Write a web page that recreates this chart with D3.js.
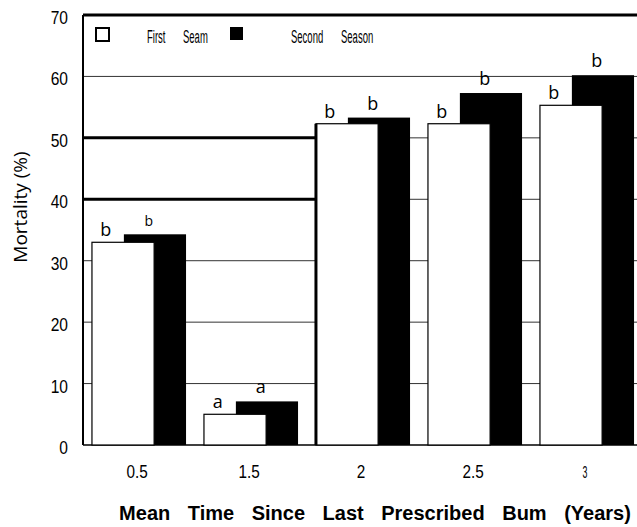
<!DOCTYPE html>
<html>
<head>
<meta charset="utf-8">
<script src="https://cdn.jsdelivr.net/npm/d3@7"></script>
<style>
	body { margin: 0; background: #fff; }
	.narrow { font-family: 'Liberation Sans', Arial, sans-serif; }
</style>
</head>
<body>
<script>
const years = ['0.5', '1.5', '2', '2.5', '3'];
const firstSeason = [33, 5, 52.3, 52.3, 55.3];
const secondSeason = [34.3, 7.1, 53.3, 57.3, 60.2];
const firstLetters = ['b', 'a', 'b', 'b', 'b'];
const secondLetters = ['b', 'a', 'b', 'b', 'b'];
const yTicks = [0, 10, 20, 30, 40, 50, 60, 70];
const legendWords = [['First', 'Seam'], ['Second', 'Season']];

const margin = {top: 15, right: -6, bottom: 82, left: 83};
const svgSize = {'width': 637, 'height': 527};
const chartSize = {'width': svgSize.width - margin.left - margin.right, 'height': svgSize.height - margin.top - margin.bottom};

const svg = d3.select('body').append('svg')
	.attr('width', svgSize.width)
	.attr('height', svgSize.height);

const xAxis = d3.scaleBand().range([0, chartSize.width]).domain(years);
const yAxis = d3.scaleLinear().range([chartSize.height, 0]).domain([0, 70]);

const step = xAxis.step();
const barW = step * 0.555;
const whiteX = (d) => xAxis(d) + step * 0.08;
const blackX = (d) => xAxis(d) + step * 0.365;

const chart = svg.append('g')
	.attr('transform', `translate(${margin.left}, ${margin.top})`);

// gridlines
chart.selectAll('line.grid')
	.data(yTicks.filter((t) => t > 0 && t < 70))
	.enter()
	.append('line')
	.attr('class', 'grid')
	.attr('x1', 0)
	.attr('x2', chartSize.width)
	.attr('y1', (d) => yAxis(d))
	.attr('y2', (d) => yAxis(d))
	.attr('stroke', '#333')
	.attr('stroke-width', 1);

// heavier lines from the scan on the left part
chart.selectAll('line.heavy')
	.data([40, 50])
	.enter()
	.append('line')
	.attr('x1', 0)
	.attr('x2', whiteX('2'))
	.attr('y1', (d) => yAxis(d))
	.attr('y2', (d) => yAxis(d))
	.attr('stroke', '#000')
	.attr('stroke-width', 3);

// frame
chart.append('line')
	.attr('x1', 0).attr('x2', chartSize.width)
	.attr('y1', yAxis(70)).attr('y2', yAxis(70))
	.attr('stroke', '#000').attr('stroke-width', 3);
chart.append('line')
	.attr('x1', 0).attr('x2', 0)
	.attr('y1', yAxis(70)).attr('y2', yAxis(0))
	.attr('stroke', '#000').attr('stroke-width', 2);
chart.append('line')
	.attr('x1', 0).attr('x2', chartSize.width)
	.attr('y1', yAxis(0)).attr('y2', yAxis(0))
	.attr('stroke', '#000').attr('stroke-width', 1.5);

// black bars (behind)
chart.selectAll('rect.second')
	.data(years)
	.enter()
	.append('rect')
	.attr('class', 'second')
	.attr('x', (d) => blackX(d))
	.attr('y', (d, i) => yAxis(secondSeason[i]))
	.attr('width', barW)
	.attr('height', (d, i) => yAxis(0) - yAxis(secondSeason[i]))
	.attr('fill', '#000');

// white bars (front)
chart.selectAll('rect.first')
	.data(years)
	.enter()
	.append('rect')
	.attr('class', 'first')
	.attr('x', (d) => whiteX(d))
	.attr('y', (d, i) => yAxis(firstSeason[i]))
	.attr('width', barW)
	.attr('height', (d, i) => yAxis(0) - yAxis(firstSeason[i]))
	.attr('fill', '#fff')
	.attr('stroke', '#000')
	.attr('stroke-width', 1.2);

chart.append('line')
	.attr('x1', whiteX('2')).attr('x2', whiteX('2'))
	.attr('y1', yAxis(firstSeason[2])).attr('y2', yAxis(0))
	.attr('stroke', '#000').attr('stroke-width', 3);

// letters
chart.selectAll('text.l1')
	.data(years)
	.enter()
	.append('text')
	.attr('x', (d) => whiteX(d) + barW * 0.22)
	.attr('y', (d, i) => yAxis(firstSeason[i]) - 6)
	.attr('text-anchor', 'middle')
	.attr('font-family', 'Open Sans, sans-serif')
	.attr('font-size', 18)
	.text((d, i) => firstLetters[i]);

chart.selectAll('text.l2')
	.data(years)
	.enter()
	.append('text')
	.attr('x', (d) => blackX(d) + barW * 0.4)
	.attr('y', (d, i) => yAxis(secondSeason[i]) - 8)
	.attr('text-anchor', 'middle')
	.attr('font-family', 'Open Sans, sans-serif')
	.attr('font-size', (d, i) => i === 0 ? 14 : 18)
	.text((d, i) => secondLetters[i]);

// y ticks (condensed look)
chart.selectAll('text.tick-y')
	.data(yTicks)
	.enter()
	.append('text')
	.attr('class', 'narrow')
	.attr('transform', (d) => `translate(-15, ${yAxis(d) + 9}) scale(0.82, 1)`)
	.attr('text-anchor', 'end')
	.attr('font-size', 19)
	.text((d) => d);

// x ticks
chart.selectAll('text.tick-x')
	.data(years)
	.enter()
	.append('text')
	.attr('class', 'narrow')
	.attr('transform', (d) => `translate(${xAxis(d) + step / 2 - 2}, ${yAxis(0) + 33}) scale(${d === '3' ? 0.55 : 0.85}, 1)`)
	.attr('text-anchor', 'middle')
	.attr('font-size', (d) => d === '3' ? 16 : 18)
	.text((d) => d);

// legend
const legend = chart.append('g');
legend.append('rect')
	.attr('x', 13).attr('y', 13).attr('width', 13).attr('height', 13)
	.attr('fill', '#fff').attr('stroke', '#000').attr('stroke-width', 2);
legend.append('rect')
	.attr('x', 147).attr('y', 12).attr('width', 13).attr('height', 13)
	.attr('fill', '#000');

const wordX = [[64, 100], [208, 258]];
legendWords.forEach((words, s) => {
	words.forEach((w, k) => {
		legend.append('text')
			.attr('class', 'narrow')
			.attr('transform', `translate(${wordX[s][k]}, 28) scale(0.5, 1)`)
			.attr('font-size', 19)
			.text(w);
	});
});

// axis titles
svg.append('text')
	.attr('transform', 'translate(27, 207) rotate(-90)')
	.attr('text-anchor', 'middle')
	.attr('font-family', 'Open Sans, sans-serif')
	.attr('font-size', 19)
	.text('Mortality (%)');

svg.append('text')
	.attr('x', 375)
	.attr('y', 520)
	.attr('text-anchor', 'middle')
	.attr('font-family', 'Liberation Sans, Arial, sans-serif')
	.attr('font-weight', 'bold')
	.attr('font-size', 20)
	.attr('word-spacing', 12)
	.text('Mean Time Since Last Prescribed Bum (Years)');
</script>
</body>
</html>
